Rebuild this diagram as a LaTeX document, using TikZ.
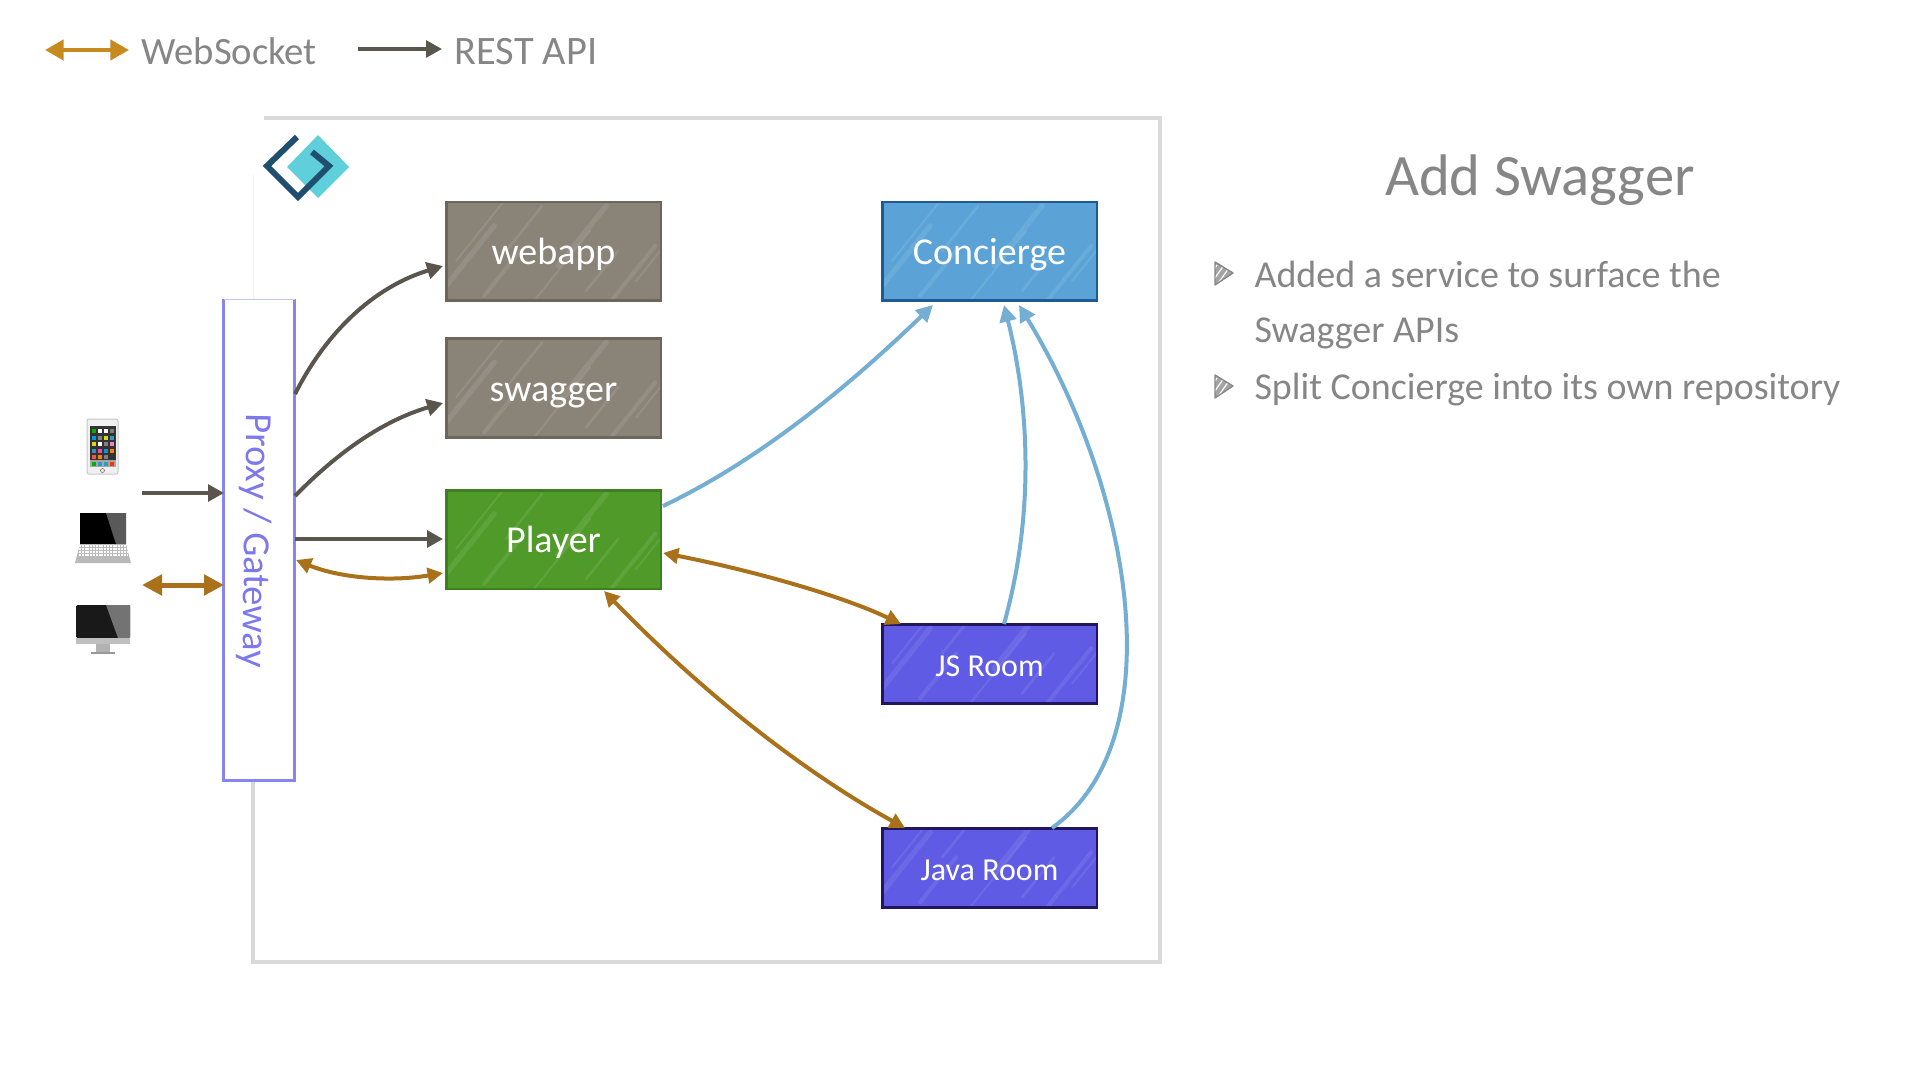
\documentclass[tikz,border=0pt]{standalone}
\usepackage{fontspec}
\setmainfont{Carlito}
\usetikzlibrary{arrows.meta}

\definecolor{txtgray}{HTML}{868686}
\definecolor{framegray}{HTML}{D9D9D9}
\definecolor{restdark}{HTML}{5A564E}
\definecolor{wsgold}{HTML}{A8711A}
\definecolor{wslegend}{HTML}{C68A1E}
\definecolor{bluelink}{HTML}{74AFD3}
\definecolor{proxyline}{HTML}{8884F0}
\definecolor{proxytext}{HTML}{7D78EC}
\definecolor{logoteal}{HTML}{5ECFDB}
\definecolor{logodark}{HTML}{1F4E6E}
\definecolor{brownfill}{HTML}{8A8378}
\definecolor{brownline}{HTML}{6D665B}
\definecolor{greenfill}{HTML}{4F9A28}
\definecolor{greenline}{HTML}{3F7F20}
\definecolor{bluefill}{HTML}{5BA3D6}
\definecolor{blueline}{HTML}{1F5A94}
\definecolor{roomfill}{HTML}{5F5BE4}
\definecolor{roomline}{HTML}{23155F}

\tikzset{
  every picture/.style={line width=0.75pt},
  sketchbox/.style={draw=#1, line width=2pt, inner sep=0pt, text=white, minimum width=161pt, text height=20pt, text depth=0pt, font=\fontsize{28.5}{32}\selectfont,
    path picture={\foreach \hx/\hy/\hl/\hw in {-70/0/60/3,-40/30/50/1.5,-12/0/75/4,10/40/60/1.5,38/5/45/3,60/50/45/2,88/0/70/1.5,112/35/60/4,140/10/40/2,165/0/55/3,190/20/35/1.5}{
      \draw[white,opacity=.09,line width=\hw pt,line cap=round] ([shift={(\hx*0.75pt,\hy*0.75pt)}]path picture bounding box.south west) -- ++(0.8*\hl,\hl);}}},
  restarrow/.style={draw=restdark, line width=3pt, -{Triangle[length=12pt,width=12.5pt]}},
  wsarrow/.style={draw=wsgold, line width=3pt, {Triangle[length=11.5pt,width=11.5pt]}-{Triangle[length=11.5pt,width=11.5pt]}},
  bluearrow/.style={draw=bluelink, line width=3pt, -{Triangle[length=12.5pt,width=12.5pt]}},
  bulletmark/.style={fill=txtgray!75, draw=txtgray, line width=1pt, line join=round,
    path picture={\foreach \hx in {-12,-5,2,9}{
      \draw[white,line width=0.9pt] ([xshift=\hx*0.75pt]path picture bounding box.south west) -- ++(14,-20);}}},
  bodytext/.style={text=txtgray, inner sep=0pt, anchor=west, font=\fontsize{28.5}{32}\selectfont},
}

\begin{document}
\begin{tikzpicture}[x=0.75pt,y=0.75pt,yscale=-1,xscale=1]
\useasboundingbox (0,0) rectangle (1920,1080);

%Frame
\draw[framegray, line width=2.4pt] (264,118) -- (1160,118) -- (1160,962) -- (253,962) -- (253,780);
\draw[framegray!35, line width=0.75pt] (253,175) -- (253,300);

%Logo
\fill[logoteal] (318,135) -- (349,167) -- (318,198) -- (287,167) -- cycle;
\draw[logodark, line width=4.5pt, line join=miter] (297,137) -- (267,166) -- (298,197) -- (329,166) -- (312,152);

%Devices
\draw[fill=gray!12, draw=gray!45, rounded corners=1.5pt, line width=0.75pt] (87,419) rectangle (118,474);
\fill[black!80] (90,426) rectangle (116,467);
\foreach \iy/\ca/\cb/\cc/\cd in {0/green!70!black/white/white/gray, 1/cyan!80!blue/gray/yellow!85!black/cyan!80!black, 2/yellow!85!black/white/gray/magenta!50, 3/cyan!70!black/magenta!70/cyan!80!blue/orange, 4/red!70/orange/gray/black!80}{
  \fill[\ca] (92,429+\iy*6.5) rectangle ++(4,4);
  \fill[\cb] (98,429+\iy*6.5) rectangle ++(4,4);
  \fill[\cc] (104,429+\iy*6.5) rectangle ++(4,4);
  \fill[\cd] (110,429+\iy*6.5) rectangle ++(4,4);}
\fill[gray!70] (90,460) rectangle (116,467);
\foreach \ix/\col in {0/green!70!black,1/cyan!80!black,2/cyan!80!black,3/red!60!orange}{\fill[\col] (92+\ix*6,461.5) rectangle ++(4,4);}
\draw[gray, line width=0.5pt] (102.5,470.5) circle (2);

\fill[black] (80,513) rectangle (126,544);
\fill[black!65] (106,513) -- (126,513) -- (126,544) -- (116,544) -- cycle;
\fill[gray!55] (80,544) -- (126,544) -- (131,563) -- (75,563) -- cycle;
\foreach \iy in {546,549,552,555}{\draw[white, line width=1pt, dash pattern=on 1.5pt off 0.6pt] (79,\iy) -- (127,\iy);}

\fill[black!90, rounded corners=1pt] (76,605) rectangle (130,638);
\fill[black!55] (106,605) -- (130,605) -- (130,638) -- (118,638) -- cycle;
\fill[gray!50] (76,638) rectangle (130,644);
\fill[gray!60] (96,644) rectangle (110,652);
\fill[gray!80] (91,652) rectangle (115,654);

%Gateway
\node[draw=none, inner sep=0pt, minimum width=52.5pt, minimum height=360pt] (gateway) at (259,540) {};
\draw[proxyline, line width=2.3pt] (gateway.north east) -- (gateway.south east) -- (gateway.south west) -- (gateway.north west);
\draw[proxyline!50, line width=1pt] (gateway.north west) -- (gateway.north east);
\node[rotate=-91, text=proxytext, inner sep=0pt, font=\fontsize{28.8}{32}\selectfont] (gatewaylabel) at (255,541) {Proxy / Gateway};

%Boxes
\node[sketchbox=brownline, fill=brownfill, minimum height=74pt] (webapp) at (553.5,251.5) {webapp};
\node[sketchbox=brownline, fill=brownfill, minimum height=74pt] (swagger) at (553.5,388) {swagger};
\node[sketchbox=greenline, fill=greenfill, minimum height=74pt] (player) at (553.5,539.5) {Player};
\node[sketchbox=blueline, fill=bluefill, minimum height=74pt] (concierge) at (989.5,251.5) {Concierge};
\node[sketchbox=roomline, fill=roomfill, minimum height=59pt, text height=18pt, font=\fontsize{24}{28}\selectfont] (jsroom) at (989.5,664) {JS Room};
\node[sketchbox=roomline, fill=roomfill, minimum height=59pt, text height=18pt, font=\fontsize{24}{28}\selectfont] (javaroom) at (989.5,868) {Java Room};

%Connector ends
\coordinate (clientrest) at (142,493);
\coordinate (gatewayrest) at (224,493);
\coordinate (clientws) at (142,585);
\coordinate (gatewayws) at (224,585);
\coordinate (gwwebapp) at (295,394);
\coordinate (webappin) at (443,266);
\coordinate (gwswagger) at (295,496);
\coordinate (swaggerin) at (443,403);
\coordinate (gwplayer) at (295,539);
\coordinate (playerin) at (443,539);
\coordinate (gwplayerws) at (296,560);
\coordinate (playerws) at (443,573);
\coordinate (playerout) at (663,506);
\coordinate (conciergea) at (933,305);
\coordinate (conciergeb) at (1004,305);
\coordinate (conciergec) at (1019,305);
\coordinate (jsout) at (1004,624);
\coordinate (javaout) at (1052,828);
\coordinate (playerjs) at (663,553);
\coordinate (jsin) at (901,624);
\coordinate (playerjava) at (604,591);
\coordinate (javain) at (905,828);

%Connectors
\draw[restarrow] (clientrest) -- (gatewayrest);
\draw[wsarrow, line width=3.75pt, {Triangle[length=15pt,width=15pt]}-{Triangle[length=15pt,width=15pt]}] (clientws) -- (gatewayws);
\draw[restarrow] (gwwebapp) .. controls (330,325) and (380,285) .. (webappin);
\draw[restarrow] (gwswagger) .. controls (340,450) and (385,420) .. (swaggerin);
\draw[restarrow] (gwplayer) -- (playerin);
\draw[wsarrow] (gwplayerws) .. controls (340,578) and (390,582) .. (playerws);
\draw[bluearrow] (playerout) .. controls (760,460) and (850,385) .. (conciergea);
\draw[bluearrow] (jsout) .. controls (1036,510) and (1028,400) .. (conciergeb);
\draw[bluearrow] (javaout) .. controls (1175,740) and (1132,490) .. (conciergec);
\draw[wsarrow] (playerjs) .. controls (750,570) and (840,595) .. (jsin);
\draw[wsarrow] (playerjava) .. controls (700,690) and (800,770) .. (javain);

%Legend
\coordinate (legwsa) at (45,50);
\coordinate (legwsb) at (129,50);
\coordinate (legresta) at (358,49);
\coordinate (legrestb) at (442,49);
\draw[draw=wslegend, line width=3.2pt, {Triangle[length=14pt,width=15pt]}-{Triangle[length=14pt,width=15pt]}] (legwsa) -- (legwsb);
\draw[restarrow, line width=2.8pt] (legresta) -- (legrestb);
\node[bodytext, font=\fontsize{29}{32}\selectfont] (legendws) at (141,51) {WebSocket};
\node[bodytext, font=\fontsize{30.3}{32}\selectfont] (legendrest) at (454,52) {REST API};

%Text
\node[text=txtgray, inner sep=0pt, font=\fontsize{44}{50}\selectfont] (title) at (1540,180) {Add Swagger};
\draw[bulletmark] (1215,262) -- (1233,273) -- (1215,285) -- cycle;
\draw[bulletmark] (1215,375) -- (1233,386) -- (1215,398) -- cycle;
\node[bodytext] (lineone) at (1254,274) {Added a service to surface the};
\node[bodytext] (linetwo) at (1254,333) {Swagger APIs};
\node[bodytext] (linethree) at (1254,390) {Split Concierge into its own repository};
\end{tikzpicture}
\end{document}
